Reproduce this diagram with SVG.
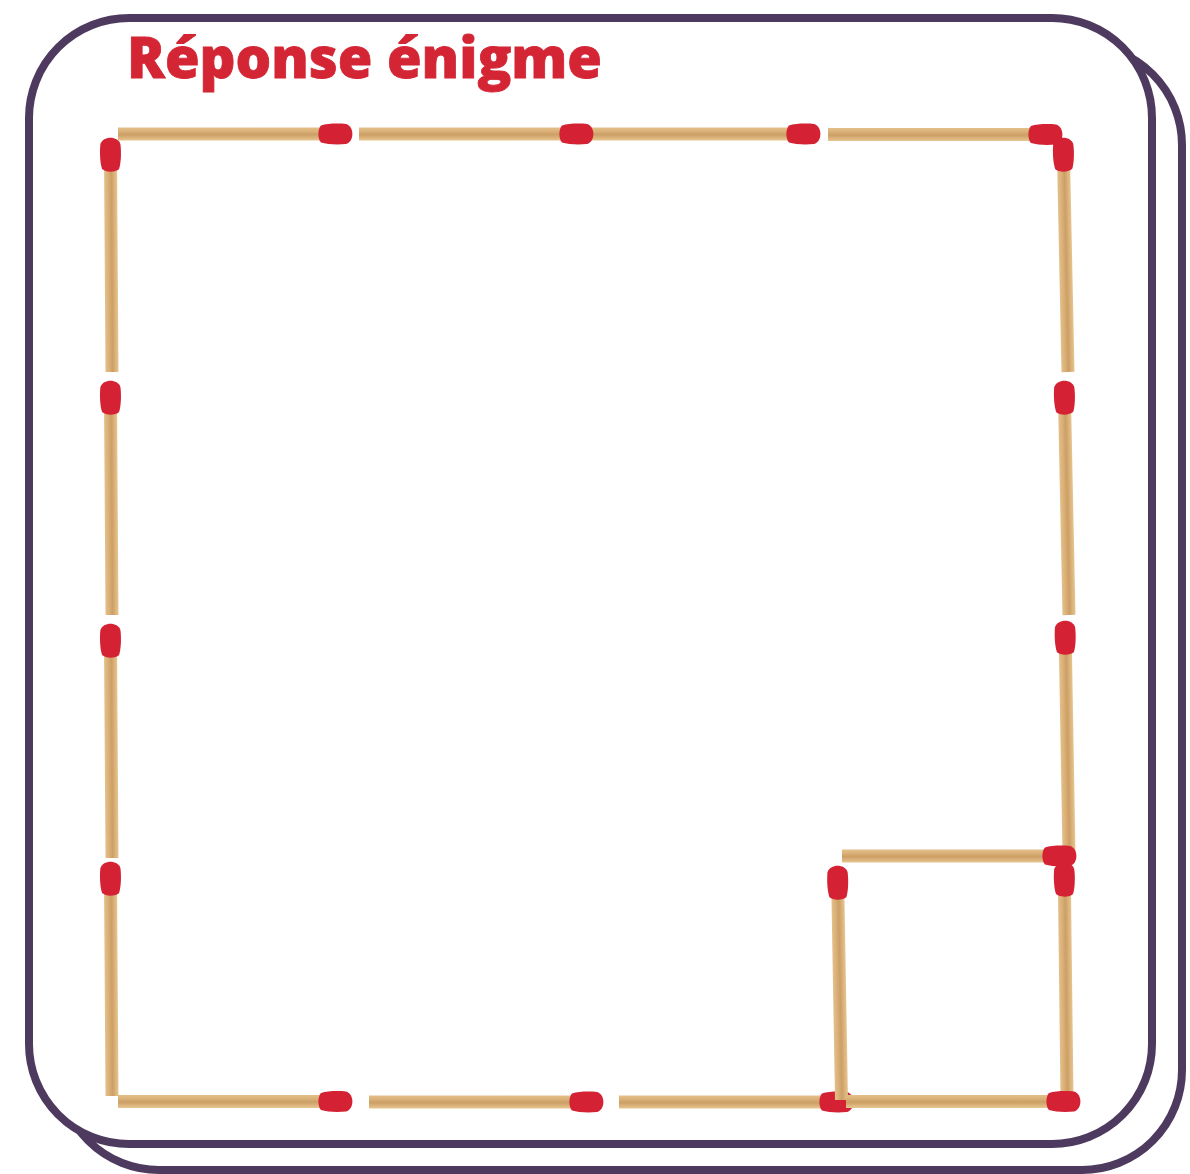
<svg xmlns="http://www.w3.org/2000/svg" width="1190" height="1174" viewBox="0 0 1190 1174">
  <defs>
    <style>
      .frame { fill: #ffffff; stroke: #4e3a5e; stroke-width: 8; }
      .title { font-family: "Open Sans", "Noto Sans", "Liberation Sans", sans-serif; font-weight: 800; font-size: 56px; fill: #d42535; stroke: #d42535; stroke-width: 0.8; }
      .stick { fill: url(#wood); }
      .head { fill: #d42234; }
    </style>
    <linearGradient id="wood" x1="0" y1="0" x2="0" y2="1">
      <stop offset="0" stop-color="#e4c08a"/>
      <stop offset="0.3" stop-color="#d9b077"/>
      <stop offset="0.55" stop-color="#cc9f66"/>
      <stop offset="0.8" stop-color="#dcb47c"/>
      <stop offset="1" stop-color="#e6c590"/>
    </linearGradient>
    <symbol id="match" overflow="visible">
      <rect class="stick" x="0" y="-6.5" width="210" height="13"/>
      <path class="head" d="M203,-8.5 C209,-10.5 220,-11 228,-10 C236.5,-7.5 236.5,7.5 228,10 C220,11 209,10.5 203,8.5 C199.5,5 199.5,-5 203,-8.5 Z"/>
    </symbol>
  </defs>

  <g id="frame">
    <rect class="frame" x="59" y="45" width="1123" height="1125" rx="100" ry="100"/>
    <rect class="frame" x="29" y="18" width="1123" height="1126" rx="100" ry="100"/>
  </g>

  <g id="title">
    <text class="title" x="127" y="78" textLength="475" lengthAdjust="spacingAndGlyphs">Réponse énigme</text>
  </g>

  <g id="matches">
    <!-- top row -->
    <g id="match-top-3"><use href="#match" transform="translate(586,134)"/></g>
    <g id="match-top-1"><use href="#match" transform="translate(118,134)"/></g>
    <g id="match-top-2"><use href="#match" transform="translate(359,134)"/></g>
    <g id="match-top-4"><use href="#match" transform="translate(828,134.5)"/></g>

    <!-- left column -->
    <g id="match-left-1"><use href="#match" transform="translate(112,372) rotate(-90.4)"/></g>
    <g id="match-left-2"><use href="#match" transform="translate(112,615) rotate(-90.4)"/></g>
    <g id="match-left-3"><use href="#match" transform="translate(112,858) rotate(-90.4)"/></g>
    <g id="match-left-4"><use href="#match" transform="translate(112,1096) rotate(-90.4)"/></g>

    <!-- bottom row (part) -->
    <g id="match-bottom-1"><use href="#match" transform="translate(118,1101.5)"/></g>
    <g id="match-bottom-2"><use href="#match" transform="translate(369,1102)"/></g>
    <g id="match-bottom-3"><use href="#match" transform="translate(619,1102)"/></g>

    <!-- small square left side -->
    <g id="match-square-left"><use href="#match" transform="translate(841.5,1100) rotate(-91)"/></g>

    <!-- right column -->
    <g id="match-right-1"><use href="#match" transform="translate(1068,372) rotate(-91.2)"/></g>
    <g id="match-right-2"><use href="#match" transform="translate(1069,615) rotate(-91.2)"/></g>
    <g id="match-right-3"><use href="#match" transform="translate(1069,855) rotate(-91)"/></g>

    <!-- small square top -->
    <g id="match-square-top"><use href="#match" transform="translate(842,856)"/></g>

    <!-- right column bottom -->
    <g id="match-right-4"><use href="#match" transform="translate(1067,1097) rotate(-90.7)"/></g>

    <!-- bottom row right -->
    <g id="match-bottom-4"><use href="#match" transform="translate(846,1101.5)"/></g>
  </g>
</svg>
